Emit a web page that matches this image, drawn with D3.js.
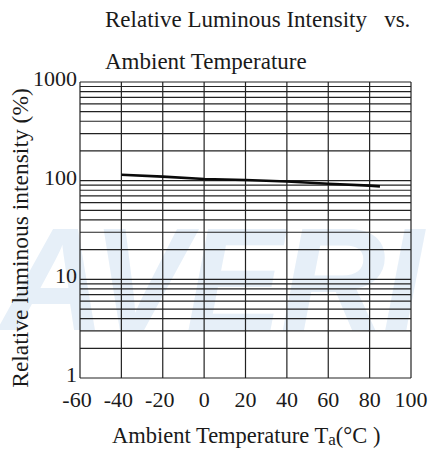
<!DOCTYPE html>
<html>
<head>
<meta charset="utf-8">
<script src="https://cdn.jsdelivr.net/npm/d3@7"></script>
<style>
    body { margin: 0; background: #ffffff; }
</style>
</head>
<body>
<svg id="chart" width="431" height="450"></svg>
<script>
// chart data
let temps  = [-40, -20, 0, 20, 40, 60, 80, 85];
let values = [115, 110, 104, 101.5, 98, 93, 89, 87.5];

let x_ticks = [-60, -40, -20, 0, 20, 40, 60, 80, 100];
let y_ticks = [1, 10, 100, 1000];

let title_lines = ['Relative Luminous Intensity   vs.', 'Ambient Temperature'];
let x_title = 'Ambient Temperature T';
let y_title = 'Relative luminous intensity (%)';

let serif = 'Liberation Serif';

let svg = d3.select('#chart');

let plot = { l: 80, r: 411, t: 82, b: 378 };

let x = d3.scaleLinear().domain([-60, 100]).range([plot.l, plot.r]);
let y = d3.scaleLog().domain([1, 1000]).range([plot.b, plot.t]);

// faint watermark behind the grid
svg.append('text')
    .attr('x', 0)
    .attr('y', 330)
    .attr('font-size', 146)
    .attr('font-weight', 'bold')
    .attr('font-style', 'italic')
    .attr('letter-spacing', -3)
    .attr('font-family', 'Liberation Sans')
    .attr('fill', '#e6eff8')
    .text('AVERI');

// grid
let grid = svg.append('g').attr('class', 'grid');

let minor = [];
for (let d = 1; d < 1000; d *= 10)
    for (let m = 1; m < 10; m++)
        minor.push(d * m);
minor.push(1000);

grid.selectAll('line.h')
    .data(minor)
    .enter()
    .append('line')
    .attr('class', 'h')
    .attr('x1', plot.l)
    .attr('x2', plot.r)
    .attr('y1', (d) => y(d))
    .attr('y2', (d) => y(d))
    .attr('stroke', '#222222')
    .attr('stroke-width', 1.2);

grid.selectAll('line.v')
    .data(x_ticks)
    .enter()
    .append('line')
    .attr('class', 'v')
    .attr('x1', (d) => x(d))
    .attr('x2', (d) => x(d))
    .attr('y1', plot.t)
    .attr('y2', plot.b)
    .attr('stroke', '#222222')
    .attr('stroke-width', 1.2);

// curve
let line = d3.line()
    .x((d, i) => x(temps[i]))
    .y((d) => y(d));

svg.append('path')
    .datum(values)
    .attr('d', line)
    .attr('fill', 'none')
    .attr('stroke', '#0a0a0a')
    .attr('stroke-width', 2.6);

// tick labels
svg.selectAll('text.ytick')
    .data(y_ticks)
    .enter()
    .append('text')
    .attr('class', 'ytick')
    .attr('x', plot.l - 3)
    .attr('y', (d) => y(d) + 4)
    .attr('text-anchor', 'end')
    .attr('font-family', serif)
    .attr('font-size', 22)
    .attr('fill', '#1a1a1a')
    .text((d) => d);

svg.selectAll('text.xtick')
    .data(x_ticks)
    .enter()
    .append('text')
    .attr('class', 'xtick')
    .attr('x', (d) => x(d) - (d < 0 ? 3 : 0))
    .attr('y', 407)
    .attr('text-anchor', 'middle')
    .attr('font-family', serif)
    .attr('font-size', 22)
    .attr('fill', '#1a1a1a')
    .text((d) => d);

// titles
svg.selectAll('text.title')
    .data(title_lines)
    .enter()
    .append('text')
    .attr('class', 'title')
    .attr('x', 105)
    .attr('y', (d, i) => 27 + i * 42)
    .attr('font-family', serif)
    .attr('font-size', 23)
    .attr('fill', '#1a1a1a')
    .style('white-space', 'pre')
    .text((d) => d);

let xt = svg.append('text')
    .attr('x', 112)
    .attr('y', 443)
    .attr('font-family', serif)
    .attr('font-size', 22.5)
    .attr('fill', '#1a1a1a');
xt.append('tspan').text(x_title);
xt.append('tspan').attr('font-size', 17).attr('dy', 2).text('a');
xt.append('tspan').attr('dy', -2).text('(°C )');

svg.append('text')
    .attr('transform', 'translate(28,238) rotate(-90)')
    .attr('text-anchor', 'middle')
    .attr('font-family', serif)
    .attr('font-size', 23.5)
    .attr('fill', '#1a1a1a')
    .text(y_title);
</script>
</body>
</html>
